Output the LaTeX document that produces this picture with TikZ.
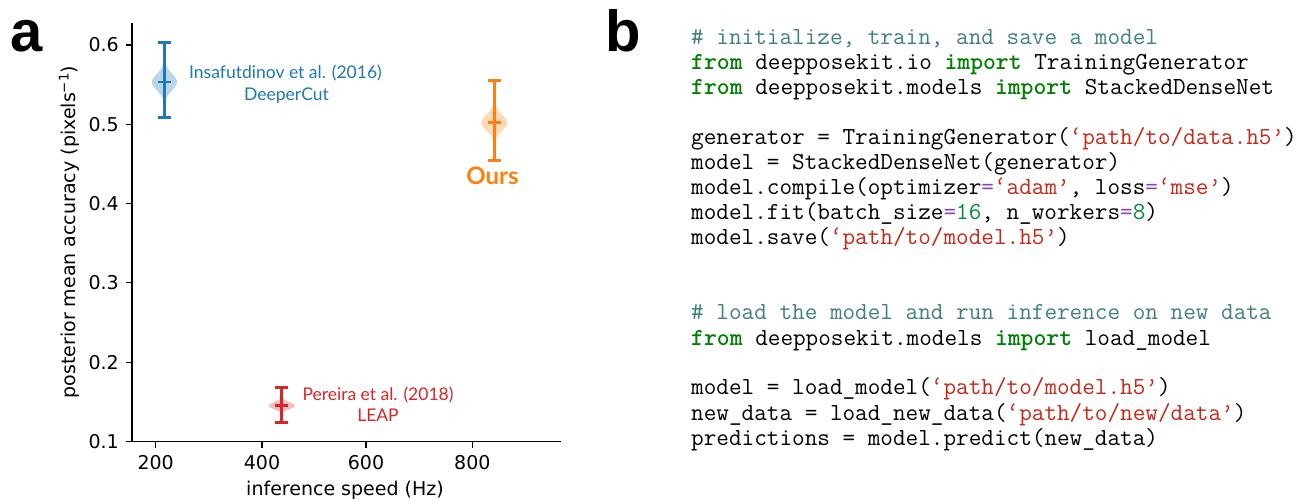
\documentclass[tikz,border=0pt]{standalone}
\usepackage{fontspec}
\setmainfont{DejaVu Sans}
\newfontfamily\latofont{Lato}
\newfontfamily\panelfont{Liberation Sans}
\definecolor{tabblue}{HTML}{1F77B4}
\definecolor{taborange}{HTML}{FF7F0E}
\definecolor{tabred}{HTML}{D62728}
\definecolor{cmcol}{RGB}{64,128,128}
\definecolor{kwcol}{RGB}{0,128,0}
\definecolor{stcol}{RGB}{196,40,25}
\definecolor{nmcol}{RGB}{0,140,50}
\definecolor{opcol}{RGB}{140,60,190}
\newcommand{\cm}[1]{\textcolor{cmcol}{#1}}
\newcommand{\kw}[1]{\textcolor{kwcol}{\bfseries #1}}
\newcommand{\st}[1]{\textcolor{stcol}{#1}}
\newcommand{\nm}[1]{\textcolor{nmcol}{#1}}
\newcommand{\op}[1]{\textcolor{opcol}{#1}}
\begin{document}
\begin{tikzpicture}[x=1pt,y=-1pt,
  spine/.style={line width=1.3pt, black},
  ticklab/.style={font=\fontsize{19}{22}\selectfont, inner sep=0pt},
  axlab/.style={font=\fontsize{19}{22}\selectfont, inner sep=0pt},
  annot/.style={font=\latofont\fontsize{17.5}{20}\selectfont, inner sep=0pt, anchor=base},
  ebar/.style={line width=2.8pt},
  panel/.style={font=\panelfont\bfseries\fontsize{58}{60}\selectfont, inner sep=0pt, anchor=base west},
  codeline/.style={font=\ttfamily\fontsize{24.5}{25}\selectfont, inner sep=0pt, anchor=base west}
]
\useasboundingbox (0,0) rectangle (1306,502);

% panel labels
\node[panel] (pa) at (10,52) {a};
\node[panel] (pb) at (605,52) {b};

% axes
\draw[spine] (132,23) -- (132,441.7) -- (560.7,441.7);
\foreach \v/\y in {0.1/441.7,0.2/362.3,0.3/282.7,0.4/203.7,0.5/124.3,0.6/45}{
  \draw[spine] (126,\y) -- (132,\y);
  \node[ticklab, anchor=east] at (119,\y) {\v};
}
\foreach \v/\x in {200/155.7,400/262,600/366,800/472.3}{
  \draw[spine] (\x,441.7) -- (\x,447.7);
  \node[ticklab] at (\x,463) {\v};
}
\node[axlab] (xlab) at (345,490) {inference speed (Hz)};
\node[axlab, rotate=90] (ylab) at (69,232) {posterior mean accuracy (pixels\textsuperscript{−1})};

% violins
\fill[tabblue, opacity=0.3] plot[domain=-26:26, samples=60, smooth] ({164.5+12.5*exp(-(\x*\x)/140)}, {82+\x})
  -- plot[domain=26:-26, samples=60, smooth] ({164.5-12.5*exp(-(\x*\x)/140)}, {82+\x}) -- cycle;
\fill[taborange, opacity=0.3] plot[domain=-23:22, samples=60, smooth] ({494.3+13*exp(-(\x*\x)/128)}, {122.7+\x})
  -- plot[domain=22:-23, samples=60, smooth] ({494.3-13*exp(-(\x*\x)/128)}, {122.7+\x}) -- cycle;
\fill[tabred, opacity=0.3] plot[domain=-10:10, samples=40, smooth] ({281.7+13*exp(-(\x*\x)/24)}, {405.7+\x})
  -- plot[domain=10:-10, samples=40, smooth] ({281.7-13*exp(-(\x*\x)/24)}, {405.7+\x}) -- cycle;

% error bars
\foreach \c/\x/\t/\m/\b in {tabblue/164.5/42.7/82/117.3, taborange/494.3/80.7/122.7/160.7, tabred/281.7/387.3/405.7/422.7}{
  \draw[ebar, \c] (\x,\t) -- (\x,\b);
  \draw[ebar, \c] (\x-6.5,\t) -- (\x+6.5,\t);
  \draw[ebar, \c] (\x-6.5,\m) -- (\x+6.5,\m);
  \draw[ebar, \c] (\x-6.5,\b) -- (\x+6.5,\b);
}

% annotations
\node[annot, text=tabblue] (ins) at (285.5,78.5) {Insafutdinov et al. (2016)};
\node[annot, text=tabblue] (dc) at (286.5,101) {DeeperCut};
\node[annot, text=tabred] (per) at (378,400) {Pereira et al. (2018)};
\node[annot, text=tabred] (leap) at (378,421.7) {LEAP};
\node[annot, text=taborange, font=\latofont\bfseries\fontsize{24}{26}\selectfont] (ours) at (492.5,185) {Ours};

% code
\node[codeline] (c0) at (691,45) {\cm{\# initialize, train, and save a model}};
\node[codeline] (c1) at (691,70) {\kw{from} deepposekit.io \kw{import} TrainingGenerator};
\node[codeline] (c2) at (691,95) {\kw{from} deepposekit.models \kw{import} StackedDenseNet};
\node[codeline] (c4) at (691,145) {generator = TrainingGenerator(\st{‘path/to/data.h5’})};
\node[codeline] (c5) at (691,170) {model = StackedDenseNet(generator)};
\node[codeline] (c6) at (691,195) {model.compile(optimizer\op{=}\st{‘adam’}, loss\op{=}\st{‘mse’})};
\node[codeline] (c7) at (691,220) {model.fit(batch\_size\op{=}\nm{16}, n\_workers\op{=}\nm{8})};
\node[codeline] (c8) at (691,245) {model.save(\st{‘path/to/model.h5’})};
\node[codeline] (c11) at (691,320) {\cm{\# load the model and run inference on new data}};
\node[codeline] (c12) at (691,345) {\kw{from} deepposekit.models \kw{import} load\_model};
\node[codeline] (c14) at (691,395) {model = load\_model(\st{‘path/to/model.h5’})};
\node[codeline] (c15) at (691,420) {new\_data = load\_new\_data(\st{‘path/to/new/data’})};
\node[codeline] (c16) at (691,445) {predictions = model.predict(new\_data)};
\end{tikzpicture}
\end{document}
